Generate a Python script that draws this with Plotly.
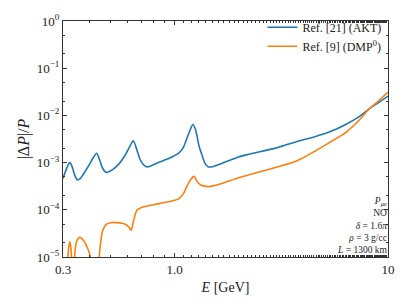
import plotly.graph_objects as go

# Energies (GeV) and |ΔP|/P
E_akt = [0.300, 0.310, 0.318, 0.323, 0.330, 0.340, 0.350, 0.360, 0.375, 0.395, 0.415, 0.431,
         0.445, 0.460, 0.478, 0.510, 0.550, 0.590, 0.620, 0.640, 0.660, 0.690, 0.720, 0.745,
         0.844, 0.950, 1.045, 1.100, 1.140, 1.180, 1.218, 1.250, 1.270, 1.300, 1.340, 1.390,
         1.440, 1.500, 1.700, 1.980, 2.200, 3.000, 3.750, 4.500, 5.340, 6.400, 7.300, 8.170,
         9.000, 10.00]
P_akt = [4.6e-4, 7.0e-4, 9.2e-4, 1.0e-3, 8.5e-4, 5.5e-4, 4.3e-4, 4.5e-4, 5.8e-4, 8.5e-4, 1.25e-3, 1.58e-3,
         1.15e-3, 7.6e-4, 6.2e-4, 7.0e-4, 9.5e-4, 1.5e-3, 2.3e-3, 2.9e-3, 2.1e-3, 1.15e-3, 8.7e-4, 8.1e-4,
         1.02e-3, 1.25e-3, 1.58e-3, 2.1e-3, 3.2e-3, 4.8e-3, 6.4e-3, 5.2e-3, 3.9e-3, 2.3e-3, 1.5e-3, 9.5e-4,
         8.1e-4, 8.2e-4, 1.0e-3, 1.3e-3, 1.48e-3, 2.05e-3, 2.8e-3, 3.5e-3, 4.5e-3, 6.6e-3, 9.3e-3, 1.38e-2,
         1.85e-2, 2.57e-2]

E_dmp = [0.300, 0.313, 0.319, 0.323, 0.327, 0.331, 0.335, 0.339, 0.347, 0.360, 0.375, 0.392,
         0.405, 0.412, 0.425, 0.440, 0.447, 0.460, 0.480, 0.510, 0.540, 0.569, 0.595, 0.615,
         0.626, 0.640, 0.668, 0.700, 0.844, 1.045, 1.100, 1.140, 1.190, 1.235, 1.270, 1.320,
         1.440, 1.600, 1.980, 2.200, 3.000, 3.750, 4.500, 5.340, 6.400, 7.300, 8.170, 9.000,
         10.00]
P_dmp = [1.0e-6, 5.0e-6, 1.6e-5, 2.1e-5, 1.5e-5, 5.0e-6, 1.0e-6, 8.0e-6, 2.1e-5, 2.6e-5, 2.2e-5, 1.5e-5,
         9.0e-6, 4.0e-6, 1.0e-6, 6.0e-6, 1.5e-5, 3.6e-5, 5.0e-5, 5.4e-5, 5.3e-5, 5.2e-5, 4.8e-5, 4.1e-5,
         3.7e-5, 5.5e-5, 1.0e-4, 1.12e-4, 1.35e-4, 1.7e-4, 2.2e-4, 3.1e-4, 4.4e-4, 5.1e-4, 4.1e-4, 3.4e-4,
         3.1e-4, 3.4e-4, 4.7e-4, 5.4e-4, 8.0e-4, 1.1e-3, 1.7e-3, 2.7e-3, 4.5e-3, 7.8e-3, 1.38e-2, 2.0e-2,
         3.1e-2]

series_names = ["Ref. [21] (AKT)", "Ref. [9] (DMP<sup>0</sup>)"]
colors = ["#1f77b4", "#ff7f0e"]

x_tickvals = [0.3, 1.0, 10]
x_ticktext = ["0.3", "1.0", "10"]
y_tickvals = [1e-5, 1e-4, 1e-3, 1e-2, 1e-1, 1]
y_ticktext = ["10<sup>−5</sup>", "10<sup>−4</sup>", "10<sup>−3</sup>",
              "10<sup>−2</sup>", "10<sup>−1</sup>", "10<sup>0</sup>"]

FONT = "Liberation Serif"

fig = go.Figure()
for E, P, name, c in [(E_akt, P_akt, series_names[0], colors[0]),
                      (E_dmp, P_dmp, series_names[1], colors[1])]:
    fig.add_trace(go.Scatter(x=E, y=P, mode="lines", name=name,
                             line=dict(color=c, width=1.6, shape="spline", smoothing=0.8)))

axis_common = dict(type="log", showgrid=False, zeroline=False, showline=True,
                   linecolor="#333", linewidth=1, mirror="allticks", ticks="inside",
                   ticklen=4, tickcolor="#333",
                   tickfont=dict(family=FONT, size=13, color="#222"))

fig.update_xaxes(**axis_common, range=[-0.5229, 1.0], tickvals=x_tickvals, ticktext=x_ticktext,
                 minor=dict(ticks="inside", ticklen=2, tickcolor="#333", showgrid=False),
                 title=dict(text="<i>E</i> [GeV]", font=dict(family=FONT, size=14, color="#222"),
                            standoff=6))
fig.update_yaxes(**axis_common, range=[-5, 0], tickvals=y_tickvals, ticktext=y_ticktext,
                 minor=dict(ticks="inside", ticklen=2, tickcolor="#333", showgrid=False),
                 title=dict(text="|Δ<i>P</i>|/<i>P</i>", font=dict(family=FONT, size=16, color="#222"),
                            standoff=3))

fig.update_layout(
    width=407, height=306, margin=dict(l=63, r=15, t=12, b=49),
    paper_bgcolor="white", plot_bgcolor="white", showlegend=True,
    legend=dict(x=0.995, y=1.035, xanchor="right", yanchor="top", bgcolor="rgba(0,0,0,0)",
                font=dict(family=FONT, size=12, color="#222"), itemwidth=30,
                tracegroupgap=2),
    font=dict(family=FONT),
)

lines = ["<i>P</i><sub><i>μe</i></sub>", "NO", "<i>δ</i> = 1.6<i>π</i>",
         "<i>ρ</i> = 3 g/cc", "<i>L</i> = 1300 km"]
fig.add_annotation(x=1.005, y=0.0, xref="paper", yref="paper", xanchor="right", yanchor="bottom",
                   align="right", showarrow=False, text="<br>".join(lines),
                   font=dict(family=FONT, size=9.5, color="#222"))

fig.write_html("out.html", config={"displayModeBar": False},
               post_script="document.body.style.margin='0';document.body.style.padding='0';")
